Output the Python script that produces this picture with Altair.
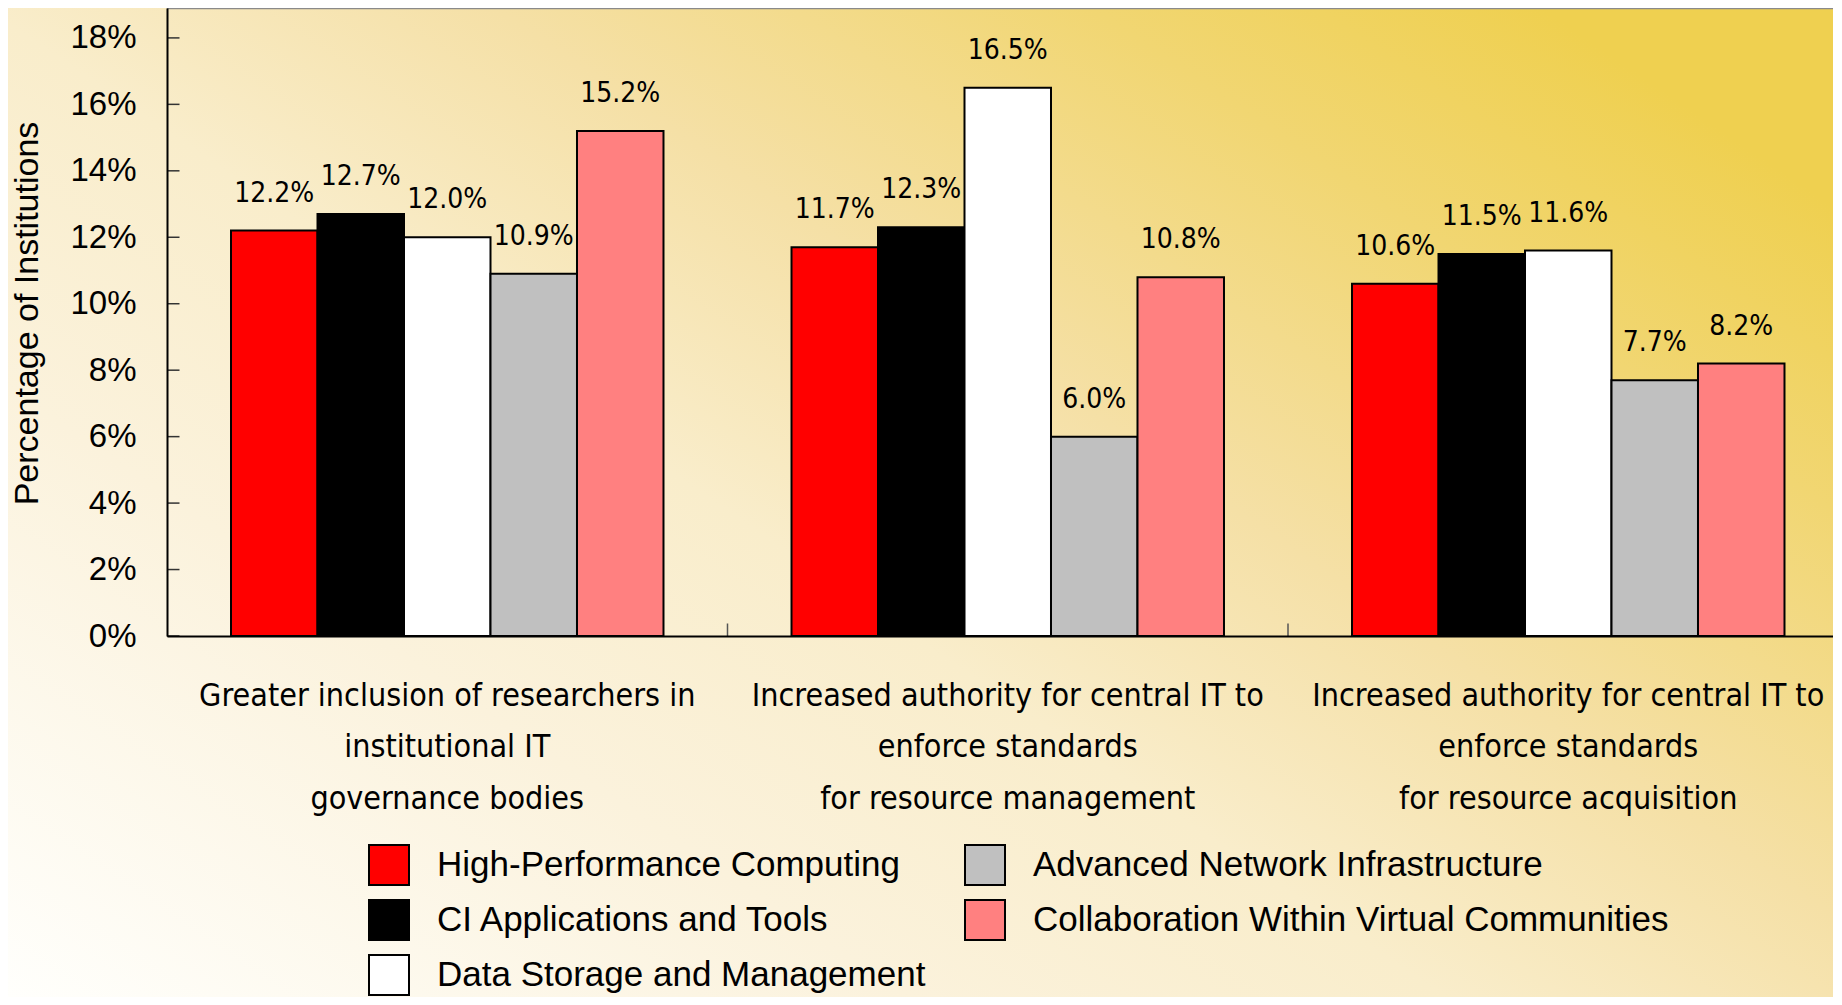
import altair as alt
import pandas as pd

categories = [
    "Greater inclusion of researchers in|institutional IT|governance bodies",
    "Increased authority for central IT to|enforce standards|for resource management",
    "Increased authority for central IT to|enforce standards|for resource acquisition",
]
series = [
    "High-Performance Computing",
    "CI Applications and Tools",
    "Data Storage and Management",
    "Advanced Network Infrastructure",
    "Collaboration Within Virtual Communities",
]
series_colors = ["#FF0000", "#000000", "#FFFFFF", "#C0C0C0", "#FF8080"]

hpc = [0.122, 0.117, 0.106]
ci_tools = [0.127, 0.123, 0.115]
data_storage = [0.120, 0.165, 0.116]
network = [0.109, 0.060, 0.077]
collaboration = [0.152, 0.108, 0.082]

y_ticks = [0.0, 0.02, 0.04, 0.06, 0.08, 0.10, 0.12, 0.14, 0.16, 0.18]

NARROW = "Liberation Sans Narrow, Arial Narrow, DejaVu Sans Condensed, Liberation Sans, sans-serif"
REGULAR = "Liberation Sans, Arial, sans-serif"

PLOT_W = 1666
PLOT_H = 628
PAD_L = 159
TOTAL_H = 989

rows = []
for vals, s in zip([hpc, ci_tools, data_storage, network, collaboration], series):
    for c, v in zip(categories, vals):
        rows.append({"category": c, "series": s, "value": v})
df = pd.DataFrame(rows)

x_enc = alt.X(
    "category:N",
    sort=categories,
    scale=alt.Scale(range=[0, 1681.5], paddingInner=0, paddingOuter=0),
    axis=alt.Axis(
        title=None,
        labelExpr="split(datum.label, '|')",
        labelFont=NARROW,
        labelFontSize=32,
        labelColor="black",
        labelAngle=0,
        labelBaseline="top",
        labelPadding=44,
        labelLineHeight=51.7,
        labelLimit=0,
        ticks=False,
        domainColor="black",
        domainWidth=2,
        grid=False,
        zindex=1,
    ),
)
xoff_enc = alt.XOffset(
    "series:N", sort=series, scale=alt.Scale(paddingInner=0, paddingOuter=0.74)
)
y_enc = alt.Y(
    "value:Q",
    scale=alt.Scale(domain=[0, 0.189], nice=False, zero=True),
    axis=alt.Axis(
        title="Percentage of Institutions",
        titleFont=REGULAR,
        titleFontSize=34,
        titleFontWeight="normal",
        titleColor="black",
        titleX=-130,
        titleY=305,
        titleBaseline="alphabetic",
        titleAlign="center",
        values=y_ticks,
        format=".0%",
        labelFont=REGULAR,
        labelFontSize=33,
        labelColor="black",
        labelPadding=31,
        ticks=False,
        domainColor="black",
        domainWidth=2,
        grid=False,
        zindex=1,
    ),
)

bg = alt.Chart(pd.DataFrame({"k": [0]})).mark_rect(
    color=alt.LinearGradient(
        gradient="linear",
        x1=0, y1=1, x2=1, y2=0.2,
        stops=[
            alt.GradientStop(color="#FFFFFC", offset=0.0),
            alt.GradientStop(color="#FBF2DC", offset=0.3),
            alt.GradientStop(color="#F9EDCB", offset=0.48),
            alt.GradientStop(color="#F5E0A6", offset=0.65),
            alt.GradientStop(color="#F1D672", offset=0.85),
            alt.GradientStop(color="#EFD050", offset=1.0),
        ],
    )
).encode(
    x=alt.value(-PAD_L), x2=alt.value(PLOT_W), y=alt.value(0), y2=alt.value(TOTAL_H)
)

bars = alt.Chart(df).mark_bar(stroke="black", strokeWidth=2, opacity=1).encode(
    x=x_enc,
    xOffset=xoff_enc,
    y=y_enc,
    color=alt.Color(
        "series:N",
        scale=alt.Scale(domain=series, range=series_colors),
        legend=alt.Legend(
            title=None,
            orient="none",
            legendX=201,
            legendY=836,
            columns=2,
            symbolType="square",
            symbolSize=1600,
            symbolStrokeColor="black",
            symbolStrokeWidth=2,
            symbolOpacity=1,
            labelFont=REGULAR,
            labelFontSize=35,
            labelColor="black",
            labelOffset=27,
            labelLimit=700,
            rowPadding=7,
            columnPadding=35,
            zindex=1,
        ),
    ),
)

labels = alt.Chart(df).mark_text(
    font=NARROW, fontSize=28, baseline="alphabetic", dy=-29, color="black"
).encode(
    x=alt.X("category:N", sort=categories),
    xOffset=alt.XOffset("series:N", sort=series),
    y=alt.Y("value:Q"),
    text=alt.Text("value:Q", format=".1%"),
)

tick_rules = alt.Chart(pd.DataFrame({"value": y_ticks})).mark_rule(
    color="#333333", strokeWidth=1.5
).encode(y=alt.Y("value:Q"), x=alt.value(0), x2=alt.value(12.5))

sep_rules = alt.Chart(pd.DataFrame({"category": categories[1:]})).mark_rule(
    color="#555555", strokeWidth=1.5
).encode(
    x=alt.X("category:N", sort=categories, bandPosition=0),
    y=alt.value(PLOT_H),
    y2=alt.value(PLOT_H - 12.5),
)

frame = alt.Chart(pd.DataFrame({"k": [0]})).mark_rule(
    color="#8A8A8A", strokeWidth=2.5
).encode(x=alt.value(0), x2=alt.value(PLOT_W), y=alt.value(0))

chart = (
    alt.layer(bg, bars, labels, tick_rules, sep_rules, frame)
    .properties(
        width=PLOT_W,
        height=PLOT_H,
        autosize=alt.AutoSizeParams(type="none"),
        padding={"left": PAD_L, "top": 0, "right": 0, "bottom": TOTAL_H - PLOT_H},
        background="#FFFEF8",
    )
    .configure_view(strokeWidth=0)
    .configure_axis(zindex=1)
)

chart.save("out.html", embed_options={"renderer": "svg", "actions": False})
